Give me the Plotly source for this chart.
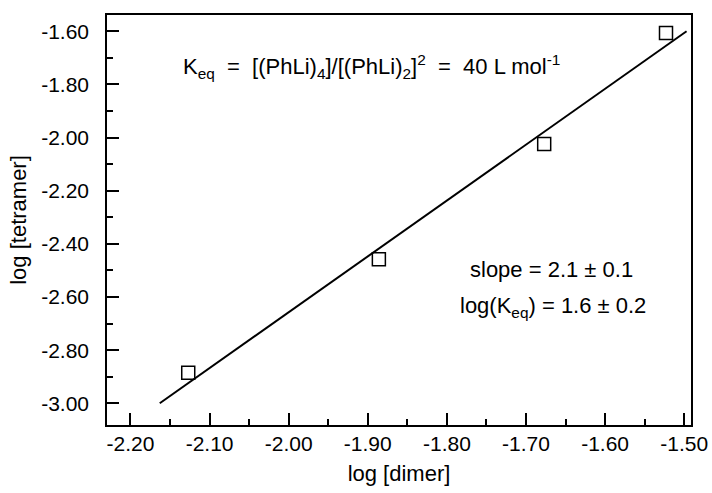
import plotly.graph_objects as go

# Data
log_dimer = [-2.127, -1.886, -1.677, -1.523]
log_tetramer = [-2.885, -2.458, -2.024, -1.606]

# Fitted line endpoints
fit_x = [-2.163, -1.497]
fit_y = [-3.00, -1.60]

x_tick_vals = [-2.20, -2.10, -2.00, -1.90, -1.80, -1.70, -1.60, -1.50]
x_tick_text = ["-2.20", "-2.10", "-2.00", "-1.90", "-1.80", "-1.70", "-1.60", "-1.50"]
y_tick_vals = [-3.00, -2.80, -2.60, -2.40, -2.20, -2.00, -1.80, -1.60]
y_tick_text = ["-3.00", "-2.80", "-2.60", "-2.40", "-2.20", "-2.00", "-1.80", "-1.60"]

FONT = "Liberation Sans, Arial, Helvetica, sans-serif"
TICK_FS = 21
TXT_FS = 22

fig = go.Figure()
fig.add_trace(go.Scatter(x=fit_x, y=fit_y, mode="lines",
                         line=dict(color="black", width=2), showlegend=False))
fig.add_trace(go.Scatter(x=log_dimer, y=log_tetramer, mode="markers",
                         marker=dict(symbol="square-open", size=13, color="black",
                                     line=dict(color="black", width=1.5)),
                         showlegend=False))

axis_common = dict(showgrid=False, zeroline=False, showline=True, mirror=True,
                   linecolor="black", linewidth=1.5, ticks="inside", ticklen=12,
                   tickwidth=1.5, tickcolor="black",
                   tickfont=dict(family=FONT, size=TICK_FS, color="black"))

fig.update_xaxes(range=[-2.2297, -1.4914], tickmode="array", tickvals=x_tick_vals,
                 ticktext=x_tick_text,
                 minor=dict(ticks="inside", ticklen=6, tickwidth=1.5, tickcolor="black",
                            tickmode="linear", tick0=-2.15, dtick=0.1),
                 title=dict(text="log [dimer]", font=dict(family=FONT, size=TXT_FS, color="black"),
                            standoff=12),
                 ticklabelstandoff=-1,
                 **axis_common)
fig.update_yaxes(range=[-3.0817, -1.5387], tickmode="array", tickvals=y_tick_vals,
                 ticktext=y_tick_text,
                 minor=dict(ticks="inside", ticklen=6, tickwidth=1.5, tickcolor="black",
                            tickmode="linear", tick0=-2.9, dtick=0.2),
                 title=dict(text="log [tetramer]", font=dict(family=FONT, size=TXT_FS, color="black"),
                            standoff=8),
                 ticklabelstandoff=12,
                 **axis_common)

ann_font = dict(family=FONT, size=TXT_FS, color="black")
fig.add_annotation(x=-1.895, y=-1.731, xref="x", yref="y", showarrow=False, font=ann_font,
                   text="K<sub>eq</sub>  =  [(PhLi)<sub>4</sub>]/[(PhLi)<sub>2</sub>]<sup>2</sup>  =  40 L mol<sup>-1</sup>")
fig.add_annotation(x=-1.668, y=-2.495, xref="x", yref="y", showarrow=False, font=ann_font,
                   text="slope = 2.1 ± 0.1")
fig.add_annotation(x=-1.666, y=-2.639, xref="x", yref="y", showarrow=False, font=ann_font,
                   text="log(K<sub>eq</sub>) = 1.6 ± 0.2")

fig.update_layout(width=712, height=493, margin=dict(l=107, r=21, t=15, b=68, autoexpand=False),
                  paper_bgcolor="white", plot_bgcolor="white",
                  font=dict(family=FONT, size=TXT_FS, color="black"))

fig.write_html("out.html", config={"displayModeBar": False},
               post_script="document.body.style.margin='0';document.body.style.overflow='hidden';")
